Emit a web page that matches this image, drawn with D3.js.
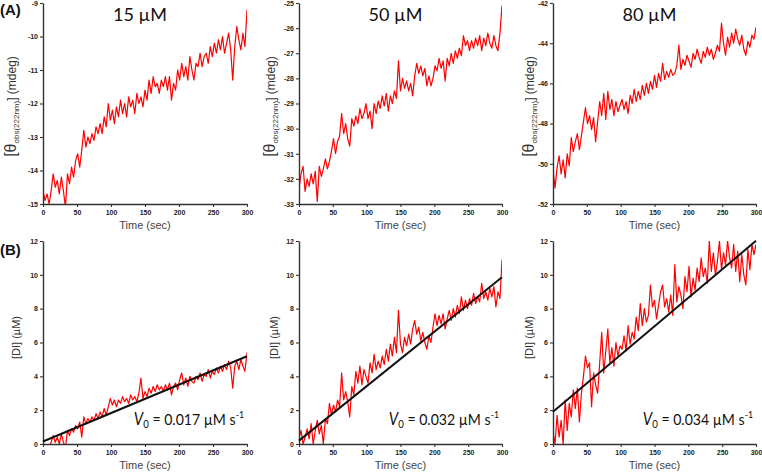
<!DOCTYPE html>
<html><head><meta charset="utf-8">
<script src="https://cdn.jsdelivr.net/npm/d3@7"></script>
<style>body{margin:0;background:#fff}svg{display:block}</style>
</head><body><svg id="c" width="762" height="475"></svg>
<script>
// ---------- data ----------
const titles = ["15 µM", "50 µM", "80 µM"];
const xTicks = [0, 50, 100, 150, 200, 250, 300];
const thetaDomains = [[-15, -9], [-33, -25], [-52, -42]];
const thetaTicks = [
  [-15, -14, -13, -12, -11, -10, -9],
  [-33, -32, -31, -30, -29, -28, -27, -26, -25],
  [-52, -50, -48, -46, -44, -42]
];
const diDomain = [0, 12];
const diTicks = [0, 2, 4, 6, 8, 10, 12];
const fitIntercepts = [0.15, 0.2, 1.9];
const fitSlopes = [0.0168, 0.0322, 0.0337];
const v0Values = ["0.017", "0.032", "0.034"];

const theta15 = [-14.6,-14.9,-14.7,-15.0,-14.6,-14.1,-14.5,-14.3,-14.7,-14.2,-14.6,-15.1,-14.1,-14.4,-13.9,-14.2,-13.7,-13.5,-13.9,-13.4,
 -12.8,-13.3,-13.0,-13.2,-12.9,-13.1,-12.7,-12.9,-12.6,-12.9,-12.4,-12.7,-12.0,-12.5,-12.2,-12.6,-12.1,-12.4,-11.9,-12.3,
 -12.0,-12.4,-11.8,-12.1,-11.9,-12.3,-11.7,-12.0,-11.8,-12.1,-11.6,-11.9,-11.3,-11.7,-11.2,-11.5,-11.4,-11.7,-11.3,-11.5,
 -11.2,-11.6,-11.2,-11.9,-11.4,-11.6,-11.0,-11.3,-10.8,-11.2,-10.9,-11.3,-10.6,-11.0,-11.3,-10.8,-10.9,-10.5,-10.9,-10.6,
 -10.5,-10.8,-10.3,-10.6,-10.2,-10.5,-10.1,-10.4,-10.0,-10.5,-10.2,-9.9,-10.4,-11.3,-10.3,-9.7,-10.1,-10.4,-9.9,-10.3,-9.2];
const theta50 = [-32.4,-31.8,-31.5,-32.5,-32.0,-32.3,-31.8,-32.2,-31.7,-32.9,-31.5,-31.9,-31.6,-31.2,-31.6,-31.3,-30.9,-30.4,-31.0,-30.5,
 -30.3,-29.4,-30.2,-29.8,-30.4,-30.7,-29.6,-29.9,-29.5,-29.8,-29.2,-29.6,-29.4,-29.0,-29.6,-29.3,-30.0,-29.0,-29.4,-28.9,
 -29.2,-28.7,-29.1,-28.6,-29.3,-28.7,-29.0,-28.5,-28.8,-27.3,-28.5,-28.0,-28.4,-28.1,-28.5,-28.2,-28.7,-27.9,-27.4,-27.8,
 -27.5,-27.9,-27.6,-28.3,-27.9,-28.3,-28.0,-27.5,-27.7,-27.2,-27.6,-27.3,-28.1,-27.2,-27.5,-27.0,-27.4,-26.9,-27.2,-26.8,
 -27.1,-26.3,-26.7,-26.5,-26.9,-26.5,-26.8,-26.4,-26.7,-26.3,-26.9,-26.4,-26.7,-26.2,-26.6,-26.8,-26.3,-26.7,-26.9,-26.2,-25.1];
const theta80 = [-50.3,-51.2,-50.2,-49.6,-50.5,-49.8,-50.7,-49.5,-50.1,-48.7,-49.4,-48.9,-48.5,-49.3,-48.6,-47.9,-47.2,-48.0,-47.6,-48.3,
 -47.7,-48.9,-47.9,-46.9,-47.6,-46.5,-47.8,-46.4,-47.3,-46.8,-47.6,-46.9,-47.4,-47.1,-46.8,-47.3,-46.9,-47.5,-46.6,-47.0,
 -46.3,-46.9,-46.4,-46.8,-46.1,-46.6,-46.0,-46.5,-45.9,-46.3,-45.6,-46.2,-45.5,-45.9,-45.0,-45.8,-45.4,-45.7,-45.3,-45.6,
 -45.5,-45.1,-44.1,-45.3,-44.8,-45.1,-44.6,-44.9,-45.2,-44.5,-44.8,-44.3,-44.7,-45.0,-44.4,-44.7,-44.2,-44.6,-44.3,-44.8,
 -44.5,-44.1,-44.4,-43.0,-44.0,-44.6,-43.7,-44.2,-43.5,-44.0,-43.3,-43.8,-44.1,-43.6,-44.3,-44.6,-43.9,-44.2,-43.6,-43.8,-43.2];
const di15 = [-0.4,-0.3,-0.5,-0.2,0.1,0.5,0.1,0.4,0.0,0.6,0.1,-0.2,0.8,0.5,0.9,0.7,1.1,0.9,1.3,0.4,
 1.6,1.2,1.5,1.3,1.6,1.4,1.8,1.5,1.9,1.6,2.1,1.7,2.2,2.7,2.3,2.6,2.2,2.6,2.4,2.8,
 2.5,2.7,2.4,2.9,2.6,2.8,2.5,3.0,3.9,2.7,3.1,2.8,3.3,3.0,3.4,3.1,3.5,3.2,3.4,3.1,
 3.5,3.2,3.6,2.9,3.4,3.6,3.2,3.8,4.2,3.5,3.9,3.4,4.0,3.7,3.6,4.0,3.8,4.2,3.7,4.1,
 4.0,4.4,3.9,4.3,4.1,4.5,4.2,4.6,4.3,4.7,4.4,4.9,4.5,3.3,4.6,4.9,4.4,5.0,4.6,4.3,5.4];
const di50 = [0.3,0.8,0.0,0.4,0.9,0.3,1.2,0.0,0.8,1.4,0.6,1.1,0.0,1.5,1.2,2.4,1.7,2.3,1.9,2.6,
 2.2,4.2,2.6,3.1,2.5,1.6,3.4,2.9,4.3,3.6,4.6,3.5,4.4,4.0,3.6,4.8,4.2,5.3,4.4,4.9,
 4.5,5.2,4.7,5.6,4.9,5.9,5.2,6.3,5.4,7.9,5.9,5.4,6.3,5.8,6.5,5.9,6.8,7.3,6.5,6.9,
 6.1,6.6,6.0,5.6,6.4,6.0,6.9,7.7,7.0,7.6,7.1,7.7,6.8,7.4,7.9,7.3,8.0,7.5,8.2,7.7,
 8.7,7.9,8.5,8.0,8.6,8.2,8.9,8.3,8.7,8.4,9.5,8.6,9.0,8.5,9.2,8.7,9.3,8.1,9.0,8.6,10.9];
const di80 = [0.7,0.0,1.7,0.4,1.4,0.0,2.6,0.8,2.4,1.6,3.2,2.1,3.3,1.3,3.0,4.0,5.2,4.5,4.8,2.2,
 4.2,3.5,3.0,4.8,6.6,4.2,5.5,6.8,4.8,5.7,4.6,6.0,5.2,5.8,5.6,6.4,5.5,7.0,5.9,6.6,
 6.2,7.5,6.7,8.3,7.0,8.0,7.2,7.6,9.4,8.1,8.5,7.4,8.2,9.0,9.4,8.1,8.6,7.8,8.8,7.6,
 10.6,8.4,9.3,8.8,8.0,9.9,9.0,10.5,8.7,9.8,9.1,10.4,9.6,11.0,9.9,10.4,9.5,12.0,10.2,11.3,
 10.0,10.8,12.0,10.3,11.3,10.6,12.0,11.0,10.4,11.8,10.2,11.4,9.6,11.2,10.0,9.4,11.5,10.3,11.8,11.2,11.8];

const thetaSeries = [theta15, theta50, theta80];
const diSeries = [di15, di50, di80];

// ---------- layout ----------
const colLeft = [43, 299, 553];
const colRight = [247, 502, 756];
const rowTop = [3, 241];
const rowBottom = [204, 444];
const ylabX = [16, 275, 534];
const dlabX = [20, 278, 533];

const svg = d3.select("#c");
const defs = svg.append("defs");
const axisColor = "#333";

function panel(ci, ri, series, domain, ticks, id) {
  const x = d3.scaleLinear().domain([0, 300]).range([colLeft[ci], colRight[ci]]);
  const y = d3.scaleLinear().domain(domain).range([rowBottom[ri], rowTop[ri]]);
  defs.append("clipPath").attr("id", id).append("rect")
    .attr("x", colLeft[ci]).attr("y", rowTop[ri])
    .attr("width", colRight[ci] - colLeft[ci]).attr("height", rowBottom[ri] - rowTop[ri]);
  const n = series.length;
  const line = d3.line().x((d, i) => x(i * 300 / (n - 1))).y(d => y(d));
  const g = svg.append("g");
  g.append("path").datum(series).attr("d", line)
    .attr("fill", "none").attr("stroke", "#ff0000").attr("stroke-width", 1.2)
    .attr("stroke-linejoin", "round").attr("clip-path", `url(#${id})`);

  const fmt = d => String(d);
  const xa = g.append("g").attr("transform", `translate(0,${rowBottom[ri]})`)
    .call(d3.axisBottom(x).tickValues(xTicks).tickFormat(fmt).tickSize(3).tickSizeOuter(0).tickPadding(3));
  const ya = g.append("g").attr("transform", `translate(${colLeft[ci]},0)`)
    .call(d3.axisLeft(y).tickValues(ticks).tickFormat(fmt).tickSize(3).tickSizeOuter(0).tickPadding(2));
  [xa, ya].forEach(a => {
    a.select(".domain").attr("stroke", axisColor).attr("stroke-width", 1.4);
    a.selectAll(".tick line").attr("stroke", axisColor).attr("stroke-width", 1.1);
    a.selectAll(".tick text").attr("fill", "#222").style("font", "bold 7px 'Liberation Sans', Arial, sans-serif");
  });
  g.append("text").attr("x", (colLeft[ci] + colRight[ci]) / 2).attr("y", rowBottom[ri] + 25)
    .attr("text-anchor", "middle").attr("fill", "#444")
    .style("font", "11px 'Liberation Sans', Arial, sans-serif").text("Time (sec)");
  return { x, y, g };
}

// Row A
thetaSeries.forEach((s, ci) => {
  const p = panel(ci, 0, s, thetaDomains[ci], thetaTicks[ci], "ca" + ci);
  svg.append("text").attr("x", (colLeft[ci] + colRight[ci]) / 2 - 5).attr("y", 21)
    .attr("text-anchor", "middle").attr("fill", "#111")
    .style("font", "18px Lato, 'Open Sans', sans-serif").text(titles[ci]);
  const cy = (rowTop[0] + rowBottom[0]) / 2 + 3;
  const t = svg.append("text").attr("transform", `translate(${ylabX[ci]},${cy}) rotate(-90)`)
    .attr("text-anchor", "middle").attr("fill", "#333")
    .style("font-family", "'Liberation Sans', Arial, sans-serif");
  t.append("tspan").attr("font-size", 16).text("[θ");
  t.append("tspan").attr("font-size", 8).attr("dy", 3).text("obs(222nm)");
  t.append("tspan").attr("font-size", 12).attr("dy", -3).text("] (mdeg)");
});

// Row B
diSeries.forEach((s, ci) => {
  const p = panel(ci, 1, s, diDomain, diTicks, "cb" + ci);
  p.g.append("line")
    .attr("x1", p.x(0)).attr("y1", p.y(fitIntercepts[ci]))
    .attr("x2", p.x(300)).attr("y2", p.y(fitIntercepts[ci] + fitSlopes[ci] * 300))
    .attr("stroke", "#111").attr("stroke-width", 2);
  const cy = (rowTop[1] + rowBottom[1]) / 2 - 5;
  svg.append("text").attr("transform", `translate(${dlabX[ci]},${cy}) rotate(-90)`)
    .attr("text-anchor", "middle").attr("fill", "#333")
    .style("font", "11px 'Liberation Sans', Arial, sans-serif").text("[DI] (µM)");
  const t = svg.append("text").attr("transform", `translate(${colRight[ci] - 3},425) scale(0.88,1)`)
    .attr("text-anchor", "end").attr("fill", "#111")
    .style("font-family", "Lato, 'Open Sans', sans-serif").attr("font-size", 16);
  t.append("tspan").attr("font-style", "italic").attr("font-size", 17).text("V");
  t.append("tspan").attr("font-size", 11).attr("dy", 3).text("0");
  t.append("tspan").attr("dy", -3).text(" = " + v0Values[ci] + " µM s");
  t.append("tspan").attr("font-size", 10).attr("dy", -7).text("-1");
});

// panel letters
svg.append("text").attr("x", 0).attr("y", 15).attr("fill", "#111")
  .style("font", "bold 15px 'Liberation Sans', Arial, sans-serif").text("(A)");
svg.append("text").attr("x", 0).attr("y", 255).attr("fill", "#111")
  .style("font", "bold 15px 'Liberation Sans', Arial, sans-serif").text("(B)");
</script>
</body></html>
